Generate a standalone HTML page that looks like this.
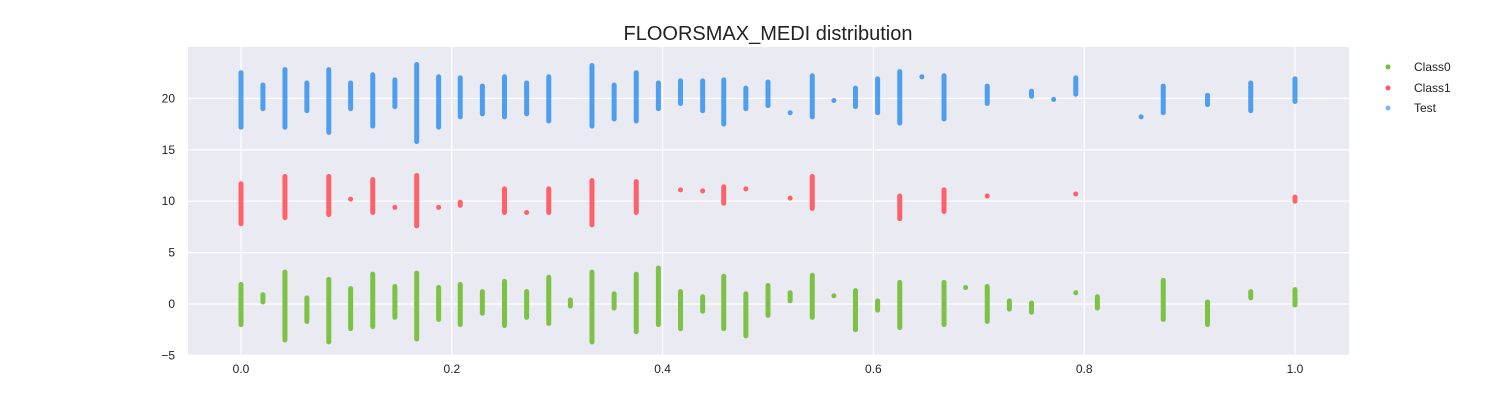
<!DOCTYPE html>
<html><head><meta charset="utf-8"><style>
body{margin:0;background:#fff;font-family:"Liberation Sans",sans-serif;}
svg text{font-family:"Liberation Sans",sans-serif;}
</style></head><body>
<svg id="chart" width="1500" height="400" xmlns="http://www.w3.org/2000/svg">
<rect x="188" y="47" width="1161" height="308" fill="#eaeaf2"/>
<g id="grid"></g>
<g id="marks"></g>
<g id="ticks"></g>
<text x="768" y="40" text-anchor="middle" font-size="20" fill="#222">FLOORSMAX_MEDI distribution</text>
<g font-size="12" fill="#222">
<circle cx="1388" cy="67" r="2.5" fill="#76c03a"/>
<text x="1414" y="71">Class0</text>
<circle cx="1388" cy="88" r="2.5" fill="#ff5a5f"/>
<text x="1414" y="92">Class1</text>
<circle cx="1388" cy="108" r="2.5" fill="#7ab8f5"/>
<text x="1414" y="112">Test</text>
</g>
</svg>
<script>
const xTicks=[0,0.2,0.4,0.6,0.8,1.0];
const xTickLabels=["0.0","0.2","0.4","0.6","0.8","1.0"];
const yTicks=[-5,0,5,10,15,20];
const yTickLabels=["−5","0","5","10","15","20"];
// strips: [x, yLow, yHigh]
const testStrips=[[0,17.2,22.5],[0.0208,19,21.3],[0.0417,17.2,22.8],[0.0625,18.8,21.5],[0.0833,16.7,22.8],[0.104,19,21.5],[0.125,17.3,22.3],[0.146,19.2,21.8],[0.1667,15.8,23.3],[0.1875,17.2,22.1],[0.208,18.2,22],[0.229,18.5,21.2],[0.25,18.2,22.1],[0.271,18.5,21.5],[0.292,17.8,22.1],[0.333,17.3,23.2],[0.354,18,21.3],[0.375,17.8,22.5],[0.396,19,21.5],[0.417,19.5,21.7],[0.438,18.8,21.7],[0.458,17.5,21.8],[0.479,19,21],[0.5,19.3,21.6],[0.521,18.6,18.6],[0.542,18.2,22.2],[0.5625,19.8,19.8],[0.583,19.2,21],[0.604,18.6,21.9],[0.625,17.6,22.6],[0.646,22.1,22.1],[0.667,18,22.2],[0.708,19.5,21.2],[0.75,20.2,20.7],[0.771,19.9,19.9],[0.792,20.4,22],[0.854,18.2,18.2],[0.875,18.6,21.2],[0.917,19.4,20.3],[0.958,18.8,21.5],[1.0,19.7,21.9]];
const class1Strips=[[0,7.8,11.7],[0.0417,8.4,12.4],[0.0833,8.7,12.4],[0.104,10.2,10.2],[0.125,8.9,12.1],[0.146,9.4,9.4],[0.1667,7.6,12.5],[0.1875,9.4,9.4],[0.208,9.6,9.9],[0.25,8.9,11.2],[0.271,8.9,8.9],[0.292,8.9,11.2],[0.333,7.7,12],[0.375,8.9,11.9],[0.417,11.1,11.1],[0.438,11,11],[0.458,9.8,11.4],[0.479,11.2,11.2],[0.521,10.3,10.3],[0.542,9.3,12.4],[0.625,8.3,10.5],[0.667,9,11.1],[0.708,10.5,10.5],[0.792,10.7,10.7],[1.0,10,10.4]];
const class0Strips=[[0,-2,1.9],[0.0208,0.2,0.9],[0.0417,-3.5,3.1],[0.0625,-1.7,0.6],[0.0833,-3.7,2.4],[0.104,-2.4,1.5],[0.125,-2.2,2.9],[0.146,-1.3,1.7],[0.1667,-3.4,3],[0.1875,-1.5,1.6],[0.208,-2,1.9],[0.229,-0.9,1.2],[0.25,-2.1,2.2],[0.271,-1.3,1.2],[0.292,-1.9,2.6],[0.3125,-0.2,0.4],[0.333,-3.7,3.1],[0.354,-0.4,1],[0.375,-2.7,2.9],[0.396,-2,3.5],[0.417,-2.4,1.2],[0.438,-0.7,0.7],[0.458,-2.4,2.7],[0.479,-3.1,1],[0.5,-1.1,1.8],[0.521,0.3,1.1],[0.542,-1.3,2.8],[0.5625,0.8,0.8],[0.583,-2.5,1.3],[0.604,-0.6,0.3],[0.625,-2.3,2.1],[0.667,-2,2.1],[0.6875,1.6,1.6],[0.708,-1.7,1.7],[0.729,-0.5,0.3],[0.75,-0.8,0.1],[0.792,1.1,1.1],[0.8125,-0.4,0.7],[0.875,-1.5,2.3],[0.917,-2,0.2],[0.958,0.6,1.2],[1.0,-0.1,1.4]];
const NS="http://www.w3.org/2000/svg";
const xS=v=>241+1054*v;
const yS=v=>304-10.28*v;
function mk(tag,attrs,parent){const e=document.createElementNS(NS,tag);for(const k in attrs)e.setAttribute(k,attrs[k]);parent.appendChild(e);return e;}
const grid=document.getElementById('grid'),ticks=document.getElementById('ticks'),marks=document.getElementById('marks');
xTicks.forEach((t,i)=>{
  const l=mk('line',{x1:xS(t),x2:xS(t),y1:47,y2:355,stroke:'#fff','stroke-width':1.2},grid);
  
  
  const tx=mk('text',{x:xS(t),y:373,'text-anchor':'middle','font-size':12,fill:'#222'},ticks);
  tx.textContent=xTickLabels[i];
  
  
});
yTicks.forEach((t,i)=>{
  const l=mk('line',{x1:188,x2:1349,y1:yS(t),y2:yS(t),stroke:'#fff','stroke-width':1.2},grid);
  
  
  const tx=mk('text',{x:175,y:yS(t)+4,'text-anchor':'end','font-size':12,fill:'#222'},ticks);
  tx.textContent=yTickLabels[i];
  
  
});
function drawSeries(strips,color,op,name){
  const g=mk('g',{},marks);
  
  
  strips.forEach(s=>{
    const x=xS(s[0]),y1=yS(s[1]),y2=yS(s[2]);
    const l=mk('line',{x1:x,x2:x,y1:y1,y2:y2,stroke:color,'stroke-width':5,'stroke-linecap':'round','stroke-opacity':op},g);
    
    
  });
}
drawSeries(class0Strips,'#76c03a',0.95,'class0');
drawSeries(class1Strips,'#ff5a5f',0.95,'class1');
drawSeries(testStrips,'#1a84ee',0.75,'test');
</script>
</body></html>
